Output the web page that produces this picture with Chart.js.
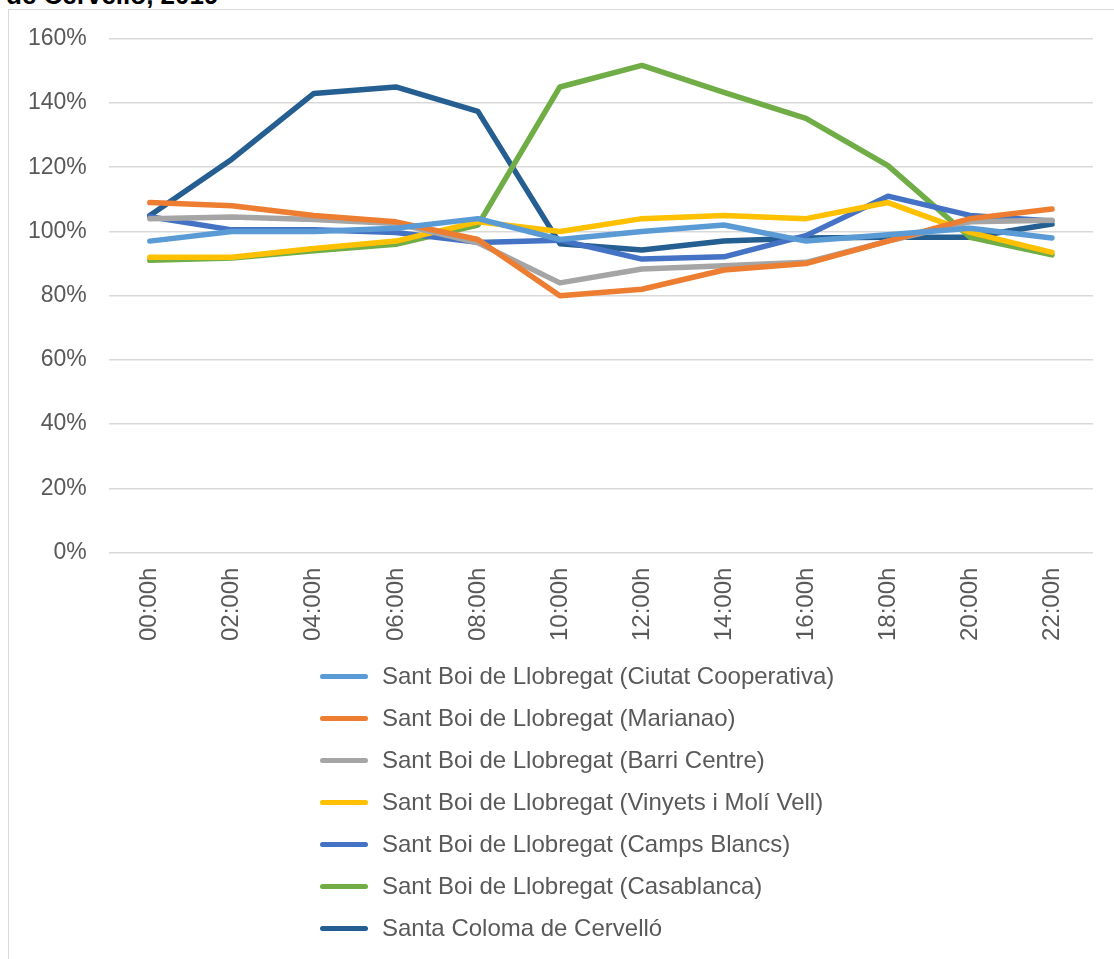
<!DOCTYPE html>
<html>
<head>
<meta charset="utf-8">
<script src="https://cdn.jsdelivr.net/npm/chart.js@4.4.1/dist/chart.umd.min.js"></script>
<style>
  html, body { margin: 0; padding: 0; background: #fff; overflow: hidden; }
  body { width: 1114px; height: 959px; position: relative; font-family: "Liberation Sans", Arial, sans-serif; }
  #title { position: absolute; left: 6px; top: -18px; font-size: 26px; line-height: 26px; font-weight: bold; color: #000; white-space: nowrap; }
  #frame { position: absolute; left: 8px; top: 9px; width: 1120px; height: 970px; border: 1px solid #d9d9d9; }
  #wrap { position: absolute; left: -3px; top: -7px; width: 1106px; height: 666px; }
  #legend { position: absolute; left: 311px; top: 645px; }
  .item { height: 42px; display: flex; align-items: center; font-size: 24px; color: #595959; white-space: nowrap; }
  .swatch { width: 48px; height: 5px; border-radius: 3px; margin-right: 14px; }
</style>
</head>
<body>
<div id="title">de Cervelló, 2019</div>
<div id="frame">
  <div id="wrap"><canvas id="lineChart"></canvas></div>
  <div id="legend"></div>
</div>
<script>
const hours = ['00:00h', '02:00h', '04:00h', '06:00h', '08:00h', '10:00h', '12:00h', '14:00h', '16:00h', '18:00h', '20:00h', '22:00h'];

const seriesNames = [
  'Sant Boi de Llobregat (Ciutat Cooperativa)',
  'Sant Boi de Llobregat (Marianao)',
  'Sant Boi de Llobregat (Barri Centre)',
  'Sant Boi de Llobregat (Vinyets i Molí Vell)',
  'Sant Boi de Llobregat (Camps Blancs)',
  'Sant Boi de Llobregat (Casablanca)',
  'Santa Coloma de Cervelló'
];

// valors en %
const ciutatCooperativa = [97, 100, 100, 101, 104, 97.5, 100, 102, 97, 99, 101, 98];
const marianao = [109, 108, 105, 103, 97.5, 80, 82, 88, 90, 97, 104, 107];
const barriCentre = [104, 104.5, 103.7, 102.5, 96.5, 84, 88.3, 89.3, 90.4, 97, 103, 103.5];
const vinyets = [92, 92, 94.7, 97, 103, 100, 104, 105, 104, 109, 99.7, 93.5];
const campsBlancs = [104.6, 100.5, 100.5, 99.7, 96.6, 97.3, 91.4, 92.1, 98.7, 111, 105, 103.3];
const casablanca = [91, 91.7, 94, 96, 102, 145, 151.7, 143.3, 135.2, 120.5, 98.2, 92.7];
const santaColoma = [105, 122.5, 143, 145, 137.4, 96.2, 94.2, 97, 98, 98.2, 98.2, 102.3];

const yTicks = [0, 20, 40, 60, 80, 100, 120, 140, 160];

const colors = ['#5B9BD5', '#ED7D31', '#A5A5A5', '#FFC000', '#4472C4', '#70AD47', '#255E91'];
const allSeries = [ciutatCooperativa, marianao, barriCentre, vinyets, campsBlancs, casablanca, santaColoma];

const datasets = allSeries.map((vals, i) => ({
  label: seriesNames[i],
  data: vals,
  borderColor: colors[i],
  backgroundColor: colors[i],
  borderWidth: 5.5,
  pointRadius: 0,
  borderCapStyle: 'round',
  borderJoinStyle: 'round',
  tension: 0,
  fill: false
}));

const ctx = document.getElementById('lineChart').getContext('2d');

const chart = new Chart(ctx, {
  type: 'line',
  data: { labels: hours, datasets: datasets },
  options: {
    responsive: true,
    maintainAspectRatio: false,
    animation: false,
    layout: {
      padding: { left: 0, right: 19, top: 23, bottom: 21 }
    },
    plugins: {
      legend: { display: false },
      tooltip: { enabled: false }
    },
    scales: {
      x: {
        offset: true,
        grid: { display: false },
        border: { display: false },
        ticks: {
          minRotation: 90,
          maxRotation: 90,
          padding: 7,
          color: '#595959',
          font: { family: 'Liberation Sans', size: 24 }
        }
      },
      y: {
        min: 0,
        max: 160,
        afterBuildTicks: (axis) => { axis.ticks = yTicks.map(v => ({ value: v })); },
        grid: { color: '#d9d9d9', lineWidth: 1.5, drawTicks: false },
        border: { display: false },
        ticks: {
          padding: 22,
          color: '#595959',
          font: { family: 'Liberation Sans', size: 23 },
          callback: (v) => v + '%'
        }
      }
    }
  }
});

// llegenda vertical
const legendBox = document.getElementById('legend');
chart.data.datasets.forEach(ds => {
  const row = document.createElement('div');
  row.className = 'item';
  const sw = document.createElement('span');
  sw.className = 'swatch';
  sw.style.background = ds.borderColor;
  const txt = document.createElement('span');
  txt.textContent = ds.label;
  row.appendChild(sw);
  row.appendChild(txt);
  legendBox.appendChild(row);
});
</script>
</body>
</html>
